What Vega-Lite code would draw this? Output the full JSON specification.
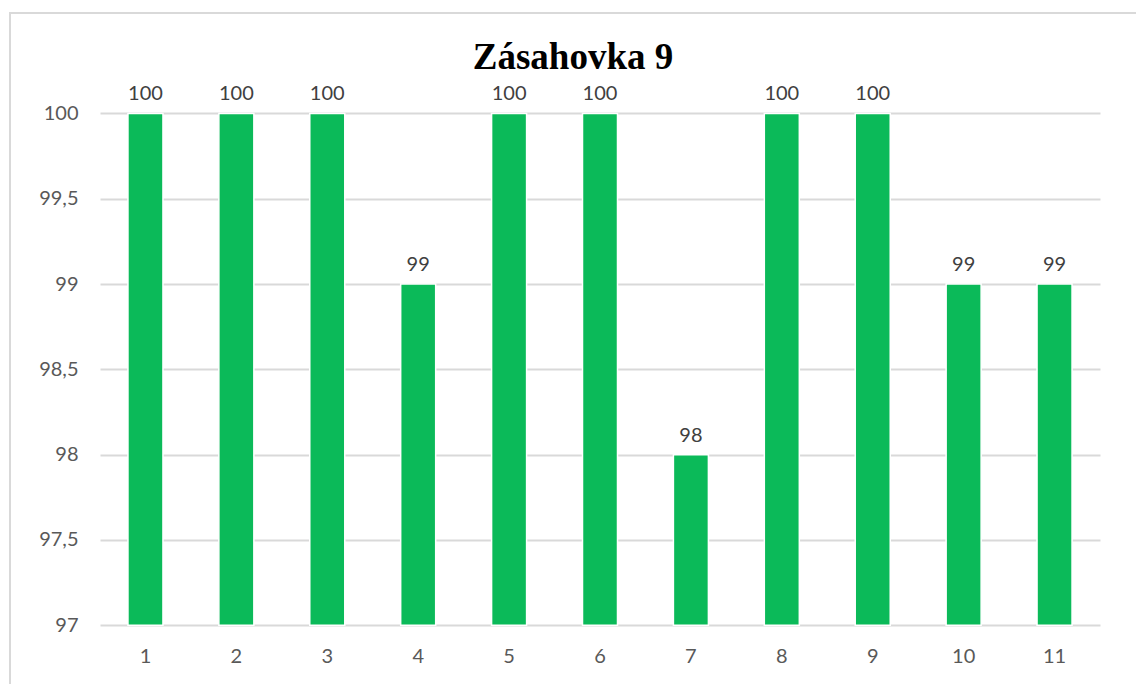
{
  "$schema": "https://vega.github.io/schema/vega-lite/v6.json",
  "width": 1140,
  "height": 690,
  "autosize": {"type": "none"},
  "padding": {"left": 10, "top": 13, "right": 0, "bottom": 0},
  "background": "white",
  "title": {
    "text": "Zásahovka 9",
    "font": "Liberation Serif",
    "fontSize": 37,
    "fontWeight": "bold",
    "color": "#000000",
    "anchor": "middle",
    "offset": 0,
    "baseline": "alphabetic",
    "dy": 93,
    "dx": -7
  },
  "data": {
    "values": [
      {"kolo": 1, "body": 100},
      {"kolo": 2, "body": 100},
      {"kolo": 3, "body": 100},
      {"kolo": 4, "body": 99},
      {"kolo": 5, "body": 100},
      {"kolo": 6, "body": 100},
      {"kolo": 7, "body": 98},
      {"kolo": 8, "body": 100},
      {"kolo": 9, "body": 100},
      {"kolo": 10, "body": 99},
      {"kolo": 11, "body": 99}
    ]
  },
  "encoding": {
    "x": {
      "field": "kolo",
      "type": "ordinal",
      "sort": null,
      "scale": {"range": [90, 1090], "paddingInner": 0.615, "paddingOuter": 0.3075},
      "axis": {
        "title": null,
        "labelAngle": 0,
        "domain": false,
        "ticks": false,
        "grid": false,
        "offset": -77.7,
        "labelPadding": 21,
        "labelFont": "Lato",
        "labelFontSize": 20,
        "labelColor": "#595959"
      }
    },
    "y": {
      "field": "body",
      "type": "quantitative",
      "scale": {"domain": [96.5445, 100.589], "nice": false, "zero": false},
      "axis": {
        "title": null,
        "values": [97, 97.5, 98, 98.5, 99, 99.5, 100],
        "labelExpr": "replace(toString(datum.value), '.', ',')",
        "domain": false,
        "ticks": false,
        "offset": -80,
        "labelPadding": 12,
        "labelFont": "Lato",
        "labelFontSize": 20,
        "labelColor": "#595959",
        "grid": true,
        "gridColor": "#d9d9d9",
        "gridWidth": 2
      }
    }
  },
  "layer": [
    {
      "mark": {"type": "bar", "color": "#0bba59", "stroke": "white", "strokeWidth": 1.5},
      "encoding": {"y2": {"datum": 97}}
    },
    {
      "mark": {"type": "text", "font": "Lato", "fontSize": 20, "color": "#404040", "baseline": "alphabetic", "dy": -13},
      "encoding": {"text": {"field": "body", "type": "quantitative", "format": "d"}}
    }
  ],
  "config": {
    "view": {"stroke": "#d9d9d9", "strokeWidth": 2}
  }
}
